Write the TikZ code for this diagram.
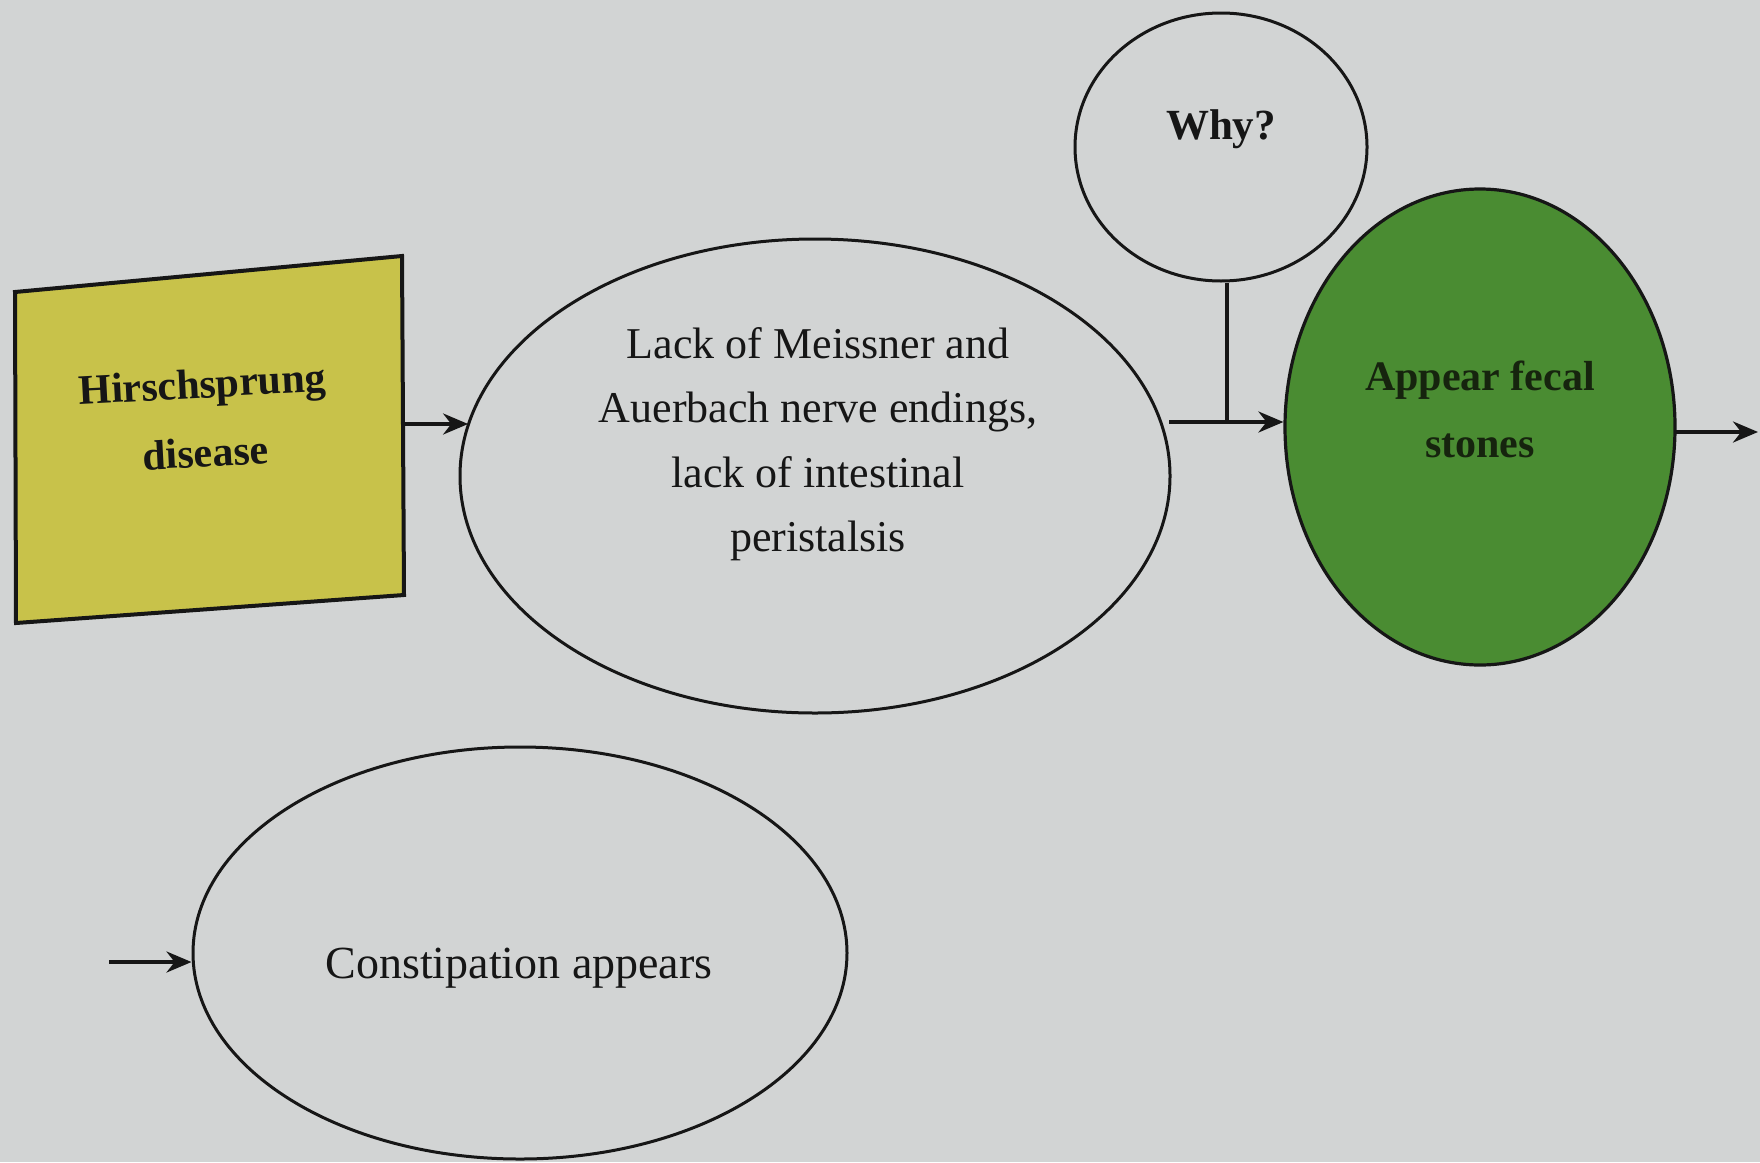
\documentclass[tikz,border=0pt]{standalone}
\usepackage{fontspec}
\setmainfont{Liberation Serif}
\usetikzlibrary{shapes.geometric,arrows.meta}
\definecolor{paper}{HTML}{D2D4D4}
\definecolor{boxyellow}{HTML}{C8C24A}
\definecolor{stonegreen}{HTML}{4A8C32}
\definecolor{ink}{HTML}{161616}
\definecolor{darkink}{HTML}{16240E}
\begin{document}
\begin{tikzpicture}[x=1pt,y=-1pt,
  edgeline/.style={draw=ink,line width=3pt},
  oval/.style={ellipse,edgeline,inner sep=0pt},
  flow/.style={draw=ink,line width=3.6pt,-{Stealth[length=25pt,width=21pt]}},
  words/.style={align=center,text=ink,inner sep=0pt}
]
% page
\fill[paper] (0,0) rectangle (1760,1162);
\useasboundingbox (0,0) rectangle (1760,1162);

% Hirschsprung box (slightly skewed quadrilateral)
\filldraw[fill=boxyellow,draw=ink,line width=4pt]
  (15,292) -- (402,256) -- (404,595) -- (16,623) -- cycle;
\node[words,font=\bfseries\fontsize{42}{69}\selectfont,rotate=3] (hdtxt) at (204,418) {Hirschsprung\\disease};
\coordinate (hdE) at (403,424);

% central cause
\node[oval,minimum width=710pt,minimum height=474pt] (lack) at (815,476) {};
\node[words,font=\fontsize{44}{64.5}\selectfont] (lacktxt) at (818,444)
  {Lack of Meissner and\\Auerbach nerve endings,\\lack of intestinal\\peristalsis};

% question bubble
\node[oval,minimum width=292pt,minimum height=268pt] (why) at (1221,147) {};
\node[words,font=\bfseries\fontsize{43}{60}\selectfont] (whytxt) at (1221,129) {Why?};

% result
\node[oval,fill=stonegreen,line width=3.2pt,minimum width=390pt,minimum height=476pt] (stones) at (1480,427) {};
\node[words,text=darkink,font=\bfseries\fontsize{42}{67}\selectfont] (stonestxt) at (1480,409) {Appear fecal\\stones};

% consequence
\node[oval,minimum width=654pt,minimum height=412pt] (const) at (520,953) {};
\node[words,font=\fontsize{46}{60}\selectfont] (consttxt) at (519,968) {Constipation appears};

% connectors (kept horizontal: start point fixes the row)
\coordinate (lackE) at (1169,422);
\coordinate (stonesE) at (1675,432);
\coordinate (tee) at (1227,422);
\coordinate (outR) at (1758,432);
\coordinate (inL) at (109,962);
\draw[flow] (hdE) -- (hdE -| lack.171.5);
\draw[flow] (lackE) -- (lackE -| stones.west);
\draw[ink,line width=4.5pt] (tee) -- (tee |- why.south);
\draw[flow] (stonesE) -- (outR);
\draw[flow] (inL) -- (inL -| const.west);
\end{tikzpicture}
\end{document}
